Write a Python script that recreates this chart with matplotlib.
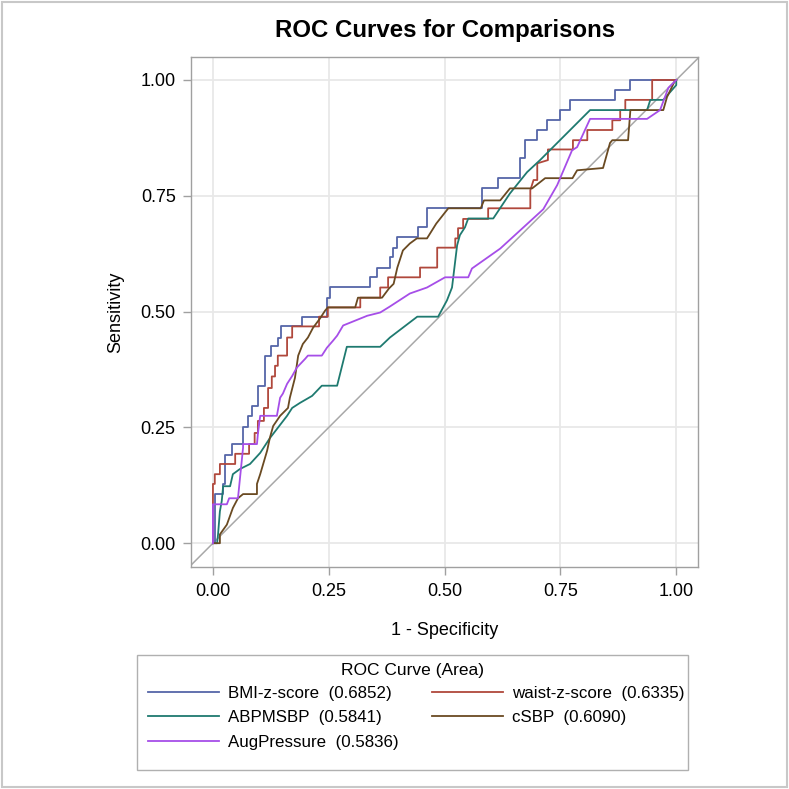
import matplotlib
matplotlib.use("Agg")
import matplotlib.pyplot as plt
from matplotlib.patches import Rectangle

plt.rcParams["font.family"] = ["Liberation Sans", "DejaVu Sans"]

# curve vertices (1 - specificity, sensitivity)
bmi_x = [0, 0.004, 0.004, 0.022, 0.022, 0.026, 0.026, 0.041, 0.041, 0.065, 0.065, 0.075, 0.075,
         0.084, 0.084, 0.097, 0.097, 0.112, 0.112, 0.125, 0.125, 0.140, 0.140, 0.147, 0.147,
         0.192, 0.192, 0.246, 0.246, 0.253, 0.253, 0.339, 0.339, 0.354, 0.354, 0.382, 0.382,
         0.389, 0.389, 0.397, 0.397, 0.443, 0.443, 0.462, 0.462, 0.581, 0.581, 0.615, 0.615,
         0.663, 0.663, 0.674, 0.674, 0.700, 0.700, 0.721, 0.721, 0.749, 0.749, 0.771, 0.771,
         0.868, 0.868, 0.901, 0.901, 1.0]
bmi_y = [0, 0, 0.106, 0.106, 0.128, 0.128, 0.190, 0.190, 0.214, 0.214, 0.250, 0.250, 0.275,
         0.275, 0.297, 0.297, 0.340, 0.340, 0.405, 0.405, 0.426, 0.426, 0.444, 0.444, 0.468,
         0.468, 0.489, 0.489, 0.530, 0.530, 0.552, 0.552, 0.574, 0.574, 0.595, 0.595, 0.617,
         0.617, 0.638, 0.638, 0.660, 0.660, 0.682, 0.682, 0.723, 0.723, 0.766, 0.766, 0.788,
         0.788, 0.831, 0.831, 0.870, 0.870, 0.892, 0.892, 0.913, 0.913, 0.935, 0.935, 0.957,
         0.957, 0.978, 0.978, 1.0, 1.0]

waist_x = [0, 0, 0.004, 0.004, 0.015, 0.015, 0.048, 0.048, 0.078, 0.078, 0.090, 0.090, 0.097,
           0.097, 0.110, 0.110, 0.119, 0.119, 0.127, 0.127, 0.134, 0.134, 0.140, 0.140, 0.160,
           0.160, 0.171, 0.171, 0.229, 0.229, 0.248, 0.248, 0.318, 0.318, 0.361, 0.361, 0.378,
           0.378, 0.447, 0.447, 0.484, 0.484, 0.523, 0.523, 0.529, 0.529, 0.540, 0.540, 0.594,
           0.594, 0.685, 0.685, 0.692, 0.700, 0.700, 0.723, 0.723, 0.777, 0.777, 0.808, 0.808,
           0.862, 0.862, 0.879, 0.879, 0.890, 0.890, 0.948, 0.948, 1.0]
waist_y = [0, 0.128, 0.128, 0.149, 0.149, 0.171, 0.171, 0.193, 0.193, 0.214, 0.214, 0.238, 0.238,
           0.264, 0.264, 0.292, 0.292, 0.335, 0.335, 0.360, 0.360, 0.383, 0.383, 0.405, 0.405,
           0.444, 0.444, 0.468, 0.468, 0.489, 0.489, 0.509, 0.509, 0.530, 0.530, 0.552, 0.552,
           0.574, 0.574, 0.595, 0.595, 0.638, 0.638, 0.658, 0.658, 0.680, 0.680, 0.700, 0.700,
           0.723, 0.723, 0.762, 0.784, 0.784, 0.820, 0.827, 0.850, 0.850, 0.870, 0.870, 0.892,
           0.892, 0.913, 0.913, 0.935, 0.935, 0.957, 0.957, 1.0, 1.0]

abpm_x = [0, 0.009, 0.011, 0.015, 0.019, 0.022, 0.037, 0.043, 0.058, 0.080, 0.102, 0.123, 0.140,
          0.160, 0.171, 0.188, 0.214, 0.235, 0.268, 0.289, 0.361, 0.382, 0.441, 0.486, 0.505,
          0.516, 0.527, 0.533, 0.544, 0.551, 0.605, 0.641, 0.678, 0.706, 0.734, 0.814, 0.937,
          0.944, 0.972, 0.987, 1.0, 1.0]
abpm_y = [0, 0, 0.019, 0.069, 0.091, 0.123, 0.123, 0.149, 0.160, 0.171, 0.195, 0.227, 0.249,
          0.275, 0.292, 0.303, 0.318, 0.340, 0.340, 0.424, 0.424, 0.444, 0.489, 0.489, 0.524,
          0.552, 0.643, 0.665, 0.682, 0.701, 0.701, 0.755, 0.801, 0.827, 0.855, 0.935, 0.935,
          0.957, 0.957, 0.974, 0.989, 1.0]

csbp_x = [0, 0.015, 0.015, 0.030, 0.043, 0.054, 0.065, 0.095, 0.095, 0.102, 0.117, 0.123, 0.130,
          0.145, 0.162, 0.166, 0.177, 0.184, 0.194, 0.205, 0.216, 0.231, 0.242, 0.248, 0.307,
          0.313, 0.365, 0.380, 0.390, 0.398, 0.410, 0.425, 0.440, 0.462, 0.482, 0.508, 0.578,
          0.585, 0.620, 0.641, 0.689, 0.717, 0.776, 0.786, 0.842, 0.857, 0.862, 0.896, 0.901,
          0.972, 0.980, 0.996, 1.0]
csbp_y = [0, 0, 0.019, 0.040, 0.076, 0.097, 0.106, 0.106, 0.128, 0.149, 0.200, 0.228, 0.253,
          0.275, 0.292, 0.314, 0.357, 0.405, 0.430, 0.444, 0.465, 0.485, 0.502, 0.509, 0.509,
          0.530, 0.530, 0.550, 0.560, 0.595, 0.632, 0.647, 0.658, 0.658, 0.690, 0.723, 0.723,
          0.740, 0.740, 0.766, 0.766, 0.788, 0.788, 0.805, 0.810, 0.864, 0.870, 0.870, 0.935,
          0.935, 0.963, 0.996, 1.0]

aug_x = [0, 0, 0.030, 0.035, 0.054, 0.065, 0.065, 0.095, 0.097, 0.102, 0.138, 0.145, 0.151,
         0.160, 0.171, 0.181, 0.199, 0.205, 0.235, 0.246, 0.259, 0.268, 0.281, 0.333, 0.361,
         0.382, 0.425, 0.462, 0.501, 0.551, 0.559, 0.620, 0.713, 0.743, 0.775, 0.786, 0.814,
         0.937, 0.965, 0.983, 1.0]
aug_y = [0, 0.084, 0.084, 0.097, 0.097, 0.206, 0.214, 0.214, 0.236, 0.275, 0.275, 0.314, 0.323,
         0.344, 0.361, 0.379, 0.398, 0.405, 0.405, 0.422, 0.437, 0.448, 0.470, 0.491, 0.498,
         0.511, 0.539, 0.552, 0.574, 0.574, 0.593, 0.636, 0.721, 0.773, 0.848, 0.855, 0.916,
         0.916, 0.935, 0.983, 1.0]

labels = ["BMI-z-score  (0.6852)", "waist-z-score  (0.6335)", "ABPMSBP  (0.5841)",
          "cSBP  (0.6090)", "AugPressure  (0.5836)"]
colors = ["#5566a8", "#b0483c", "#1f7a70", "#6a4a22", "#a64ee8"]
ticks = [0.0, 0.25, 0.5, 0.75, 1.0]
tick_labels = ["0.00", "0.25", "0.50", "0.75", "1.00"]

W = 789
fig = plt.figure(figsize=(7.89, 7.89), dpi=100)
ax = fig.add_axes([0.242, 0.281, 0.643, 0.647])

ax.plot([-0.05, 1.05], [-0.05, 1.05], color="#a8a8a8", lw=1.1, zorder=2)

curves = [(bmi_x, bmi_y), (waist_x, waist_y), (abpm_x, abpm_y), (csbp_x, csbp_y), (aug_x, aug_y)]
handles = []
for (xs, ys), lab, col in zip(curves, labels, colors):
    h, = ax.plot(xs, ys, color=col, lw=1.3, label=lab, zorder=3)
    handles.append(h)

ax.set_xlim(-0.0475, 1.0475)
ax.set_ylim(-0.052, 1.05)
ax.set_xticks(ticks)
ax.set_xticklabels(tick_labels)
ax.set_yticks(ticks)
ax.set_yticklabels(tick_labels)
ax.grid(True, color="#e8e8e8", lw=1.3, zorder=0)
ax.set_axisbelow(True)
for s in ax.spines.values():
    s.set_color("#a0a0a0")
    s.set_linewidth(1.0)
ax.tick_params(colors="#a0a0a0", labelcolor="black", labelsize=13, length=6, width=1, pad=5)

ax.set_xlabel("1 - Specificity", fontsize=13, labelpad=16)
ax.set_ylabel("Sensitivity", fontsize=13, labelpad=12)
ax.set_title("ROC Curves for Comparisons", fontsize=17.3, fontweight="bold", pad=14)

# legend box, title and two columns placed by hand
box_l, box_r, box_t, box_b = 137 / W, 688 / W, 1 - 655 / W, 1 - 770 / W
fig.patches.append(Rectangle((box_l, box_b), box_r - box_l, box_t - box_b,
                             transform=fig.transFigure, fill=False,
                             edgecolor="#b0b0b0", lw=1.0))
fig.text((box_l + box_r) / 2, 1 - 670 / W, "ROC Curve (Area)", fontsize=12.5,
         ha="center", va="center")

leg_kw = dict(loc="upper left", fontsize=12.2, handlelength=4.2, handletextpad=0.5,
              labelspacing=0.55, borderaxespad=0, borderpad=0, frameon=False)
col1 = [0, 2, 4]
col2 = [1, 3]
fig.legend([handles[i] for i in col1], [labels[i] for i in col1],
           bbox_to_anchor=(148 / W, 1 - 686 / W), **leg_kw)
fig.legend([handles[i] for i in col2], [labels[i] for i in col2],
           bbox_to_anchor=(432 / W, 1 - 686 / W), **leg_kw)

fig.patches.append(Rectangle((0.003, 0.003), 0.994, 0.994, transform=fig.transFigure,
                             fill=False, edgecolor="#c8c8c8", lw=1.5))

fig.savefig("out.png", dpi=100)
